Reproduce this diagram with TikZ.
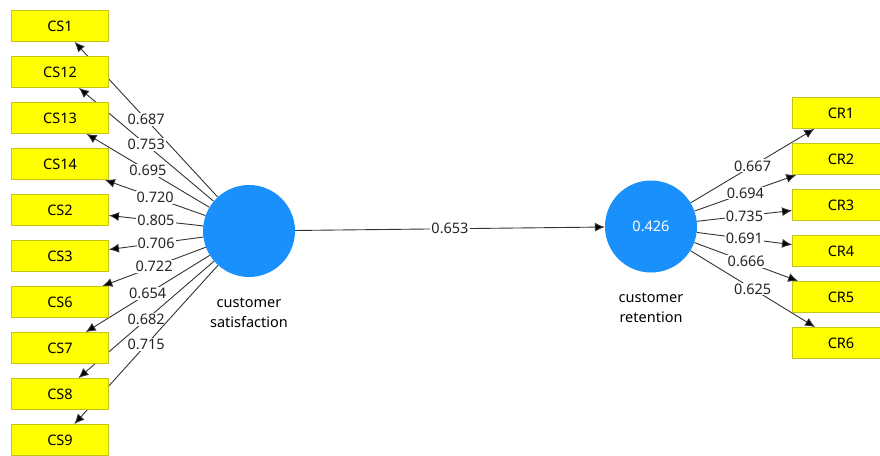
\documentclass[tikz,border=0pt]{standalone}
\usepackage{fontspec}
\setmainfont{Noto Sans}
\usepackage{tikz}
\usetikzlibrary{arrows.meta,backgrounds}

\definecolor{lvblue}{RGB}{26,144,252}
\definecolor{indyellow}{RGB}{255,255,0}
\definecolor{indborder}{RGB}{196,196,20}

\begin{document}
\begin{tikzpicture}[x=1pt, y=-1pt, font=\fontsize{14.5}{20}\selectfont,
	ind/.style={rectangle, fill=indyellow, draw=indborder, line width=0.8pt, minimum width=97pt, minimum height=31pt, inner sep=0pt},
	lv/.style={circle, fill=lvblue, minimum size=92pt, inner sep=0pt, text=white},
	load/.style={draw=black!80, line width=0.9pt, -{Latex[length=10pt,width=9pt]}},
	val/.style={fill=white, inner sep=1pt, text=black!85}]
			\useasboundingbox (0,0) rectangle (880,455);
			
			\node[lv] (sat) at (249,231){};
			\node[lv] (ret) at (651,226.5){0.426};
			
			\node[align=center] (satlab) at (249,313){customer\\satisfaction};
			\node[align=center] (retlab) at (651,308){customer\\retention};
			
			\node[ind] (cs1) at (60,26){CS1};
			\node[ind] (cs12) at (60,72){CS12};
			\node[ind] (cs13) at (60,118){CS13};
			\node[ind] (cs14) at (60,164){CS14};
			\node[ind] (cs2) at (60,210){CS2};
			\node[ind] (cs3) at (60,256){CS3};
			\node[ind] (cs6) at (60,302){CS6};
			\node[ind] (cs7) at (60,348){CS7};
			\node[ind] (cs8) at (60,394){CS8};
			\node[ind] (cs9) at (60,440){CS9};
			
			\node[ind] (cr1) at (841,113){CR1};
			\node[ind] (cr2) at (841,159){CR2};
			\node[ind] (cr3) at (841,205){CR3};
			\node[ind] (cr4) at (841,251){CR4};
			\node[ind] (cr5) at (841,297){CR5};
			\node[ind] (cr6) at (841,343){CR6};
			
			\begin{pgfonlayer}{background}
			\path[load] (sat) edge node[val]{0.687} (cs1);
			\path[load] (sat) edge node[val]{0.753} (cs12);
			\path[load] (sat) edge node[val]{0.695} (cs13);
			\path[load] (sat) edge node[val]{0.720} (cs14);
			\path[load] (sat) edge node[val]{0.805} (cs2);
			\path[load] (sat) edge node[val]{0.706} (cs3);
			\path[load] (sat) edge node[val]{0.722} (cs6);
			\path[load] (sat) edge node[val]{0.654} (cs7);
			\path[load] (sat) edge node[val]{0.682} (cs8);
			\path[load] (sat) edge node[val]{0.715} (cs9);
			
			\path[load] (sat) edge node[val]{0.653} (ret);
			
			\path[load] (ret) edge node[val]{0.667} (cr1);
			\path[load] (ret) edge node[val]{0.694} (cr2);
			\path[load] (ret) edge node[val]{0.735} (cr3);
			\path[load] (ret) edge node[val]{0.691} (cr4);
			\path[load] (ret) edge node[val]{0.666} (cr5);
			\path[load] (ret) edge node[val]{0.625} (cr6);
			\end{pgfonlayer}
			\end{tikzpicture}
\end{document}
